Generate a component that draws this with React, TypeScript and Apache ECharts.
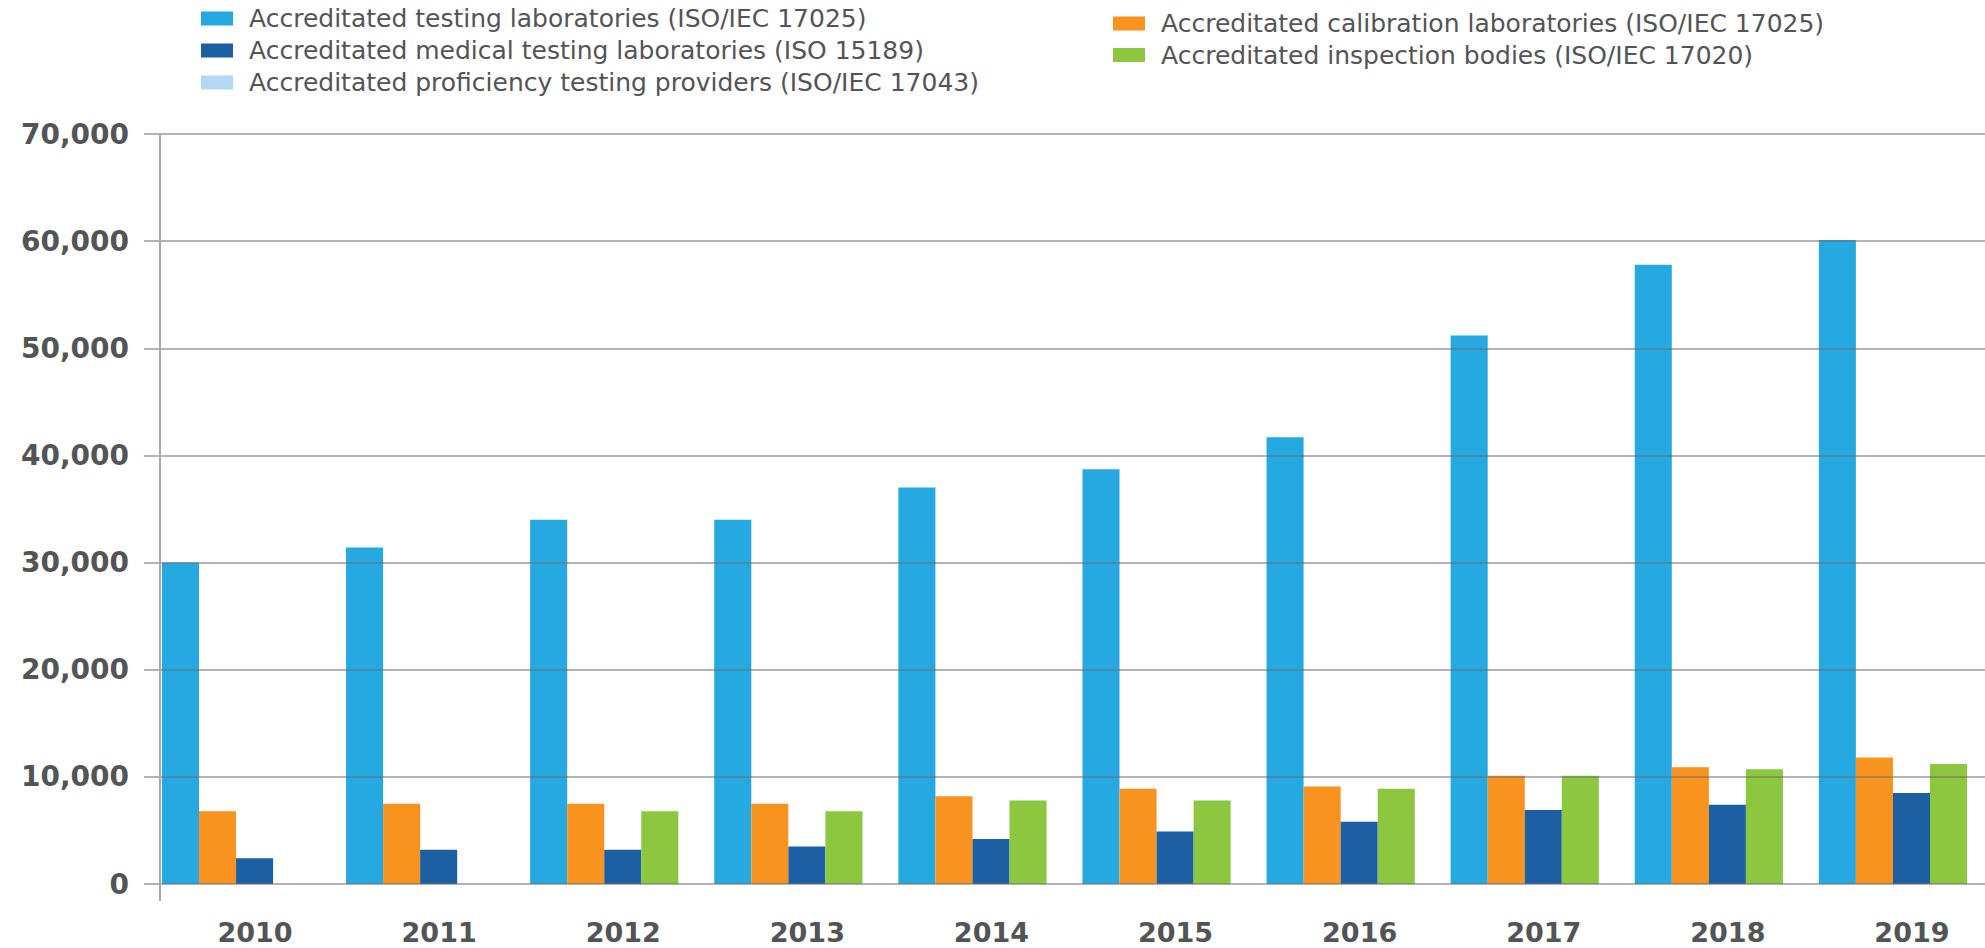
import React, { useEffect, useRef } from "react";
import * as echarts from "echarts";

const years = ["2010", "2011", "2012", "2013", "2014", "2015", "2016", "2017", "2018", "2019"];
const testingLabs = [30000, 31400, 34000, 34000, 37000, 38700, 41700, 51200, 57800, 60100];
const calibrationLabs = [6800, 7500, 7500, 7500, 8200, 8900, 9100, 10100, 10900, 11800];
const medicalLabs = [2400, 3200, 3200, 3500, 4200, 4900, 5800, 6900, 7400, 8500];
const inspectionBodies = [null, null, 6800, 6800, 7800, 7800, 8900, 10100, 10700, 11200];
const ptProviders = [null, null, null, null, null, null, null, null, null, null];

const NAME_TESTING = "Accreditated testing laboratories (ISO/IEC 17025)";
const NAME_MEDICAL = "Accreditated medical testing laboratories (ISO 15189)";
const NAME_PT = "Accreditated proficiency testing providers (ISO/IEC 17043)";
const NAME_CAL = "Accreditated calibration laboratories (ISO/IEC 17025)";
const NAME_INSP = "Accreditated inspection bodies (ISO/IEC 17020)";

const C_TESTING = "#25A9E0";
const C_CAL = "#F7931E";
const C_MED = "#1C5FA3";
const C_INSP = "#8DC63F";
const C_PT = "#B3D9F2";
const TEXT = "#535456";

export default function App() {
  const ref = useRef<HTMLDivElement>(null);
  useEffect(() => {
    if (!ref.current) return;
    const chart = echarts.init(ref.current, null, { renderer: "svg" });
    const legendText = {
      fontFamily: "DejaVu Sans",
      fontSize: 25,
      lineHeight: 25,
      color: TEXT,
      padding: [0, 0, 0, 11],
    };
    chart.setOption({
      animation: false,
      backgroundColor: "#ffffff",
      textStyle: { fontFamily: "DejaVu Sans", color: TEXT },
      legend: [
        {
          orient: "vertical",
          left: 201,
          top: 6,
          padding: 0,
          itemWidth: 32,
          itemHeight: 14,
          itemGap: 7,
          icon: "rect",
          data: [NAME_TESTING, NAME_MEDICAL, NAME_PT],
          textStyle: legendText,
          selectedMode: false,
        },
        {
          orient: "vertical",
          left: 1113,
          top: 11,
          padding: 0,
          itemWidth: 32,
          itemHeight: 14,
          itemGap: 6.5,
          icon: "rect",
          data: [NAME_CAL, NAME_INSP],
          textStyle: legendText,
          selectedMode: false,
        },
      ],
      grid: { left: 144, top: 134, height: 750, width: 1854, containLabel: false },
      xAxis: {
        type: "category",
        data: years,
        axisLine: { show: false },
        axisTick: { show: false },
        axisLabel: {
          margin: 35,
          align: "center",
          padding: [0, 0, 0, 38],
          fontFamily: "DejaVu Sans",
          fontWeight: "bold",
          fontSize: 27,
          color: TEXT,
        },
      },
      yAxis: {
        type: "value",
        min: 0,
        max: 70000,
        interval: 10000,
        z: 10,
        axisLine: { show: false },
        axisTick: { show: false },
        splitLine: { show: true, lineStyle: { color: "rgba(110,110,110,0.52)", width: 2 } },
        axisLabel: {
          margin: 15,
          fontFamily: "DejaVu Sans",
          fontWeight: "bold",
          fontSize: 28,
          color: TEXT,
          formatter: (v: number) => v.toLocaleString("en-US"),
        },
      },
      graphic: [
        {
          type: "line",
          z: 20,
          shape: { x1: 160, y1: 134, x2: 160, y2: 901 },
          style: { stroke: "#a7a9ac", lineWidth: 2 },
        },
      ],
      series: [
        {
          name: NAME_TESTING,
          type: "bar",
          data: testingLabs,
          barGap: 0,
          barCategoryGap: "19.5%",
          itemStyle: { color: C_TESTING },
          z: 2,
        },
        {
          name: NAME_CAL,
          type: "bar",
          data: calibrationLabs,
          itemStyle: { color: C_CAL },
          z: 2,
        },
        {
          name: NAME_MEDICAL,
          type: "bar",
          data: medicalLabs,
          itemStyle: { color: C_MED },
          z: 2,
        },
        {
          name: NAME_INSP,
          type: "bar",
          stack: "last",
          data: inspectionBodies,
          itemStyle: { color: C_INSP },
          z: 2,
        },
        {
          name: NAME_PT,
          type: "bar",
          stack: "last",
          data: ptProviders,
          itemStyle: { color: C_PT },
          z: 2,
        },
      ],
    });
    return () => chart.dispose();
  }, []);
  return (
    <div
      ref={ref}
      style={{ position: "absolute", left: 0, top: 0, width: 1985, height: 948 }}
    />
  );
}
